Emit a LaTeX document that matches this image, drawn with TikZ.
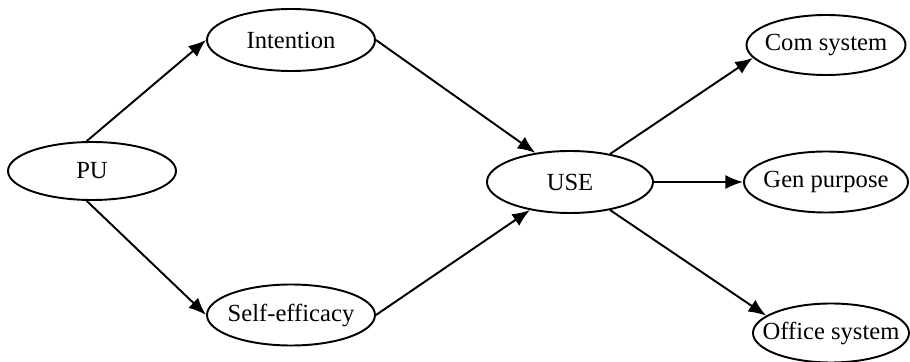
\documentclass[tikz,border=0pt]{standalone}
\usepackage{fontspec}
\setmainfont{Liberation Serif}
\usetikzlibrary{shapes.geometric,arrows.meta}

\tikzset{
	oval/.style={ellipse, draw, line width=1.1pt, inner ysep=0pt, inner xsep=-0.6cm, font=\fontsize{14}{16}\selectfont},
	link/.style={line width=1.1pt, -{Latex[length=10pt,width=8pt]}}
}

\begin{document}
\begin{tikzpicture}
	
	\useasboundingbox (0,0) rectangle (18.2,7.24);
	
	\node[oval, minimum width=3.36cm, minimum height=1.16cm] (pu) at (1.84,3.82) {PU};
	\node[oval, minimum width=3.36cm, minimum height=1.24cm] (intention) at (5.82,6.44) {Intention};
	\node[oval, minimum width=3.36cm, minimum height=1.22cm] (selfeff) at (5.82,0.94) {Self-efficacy};
	\node[oval, minimum width=3.32cm, minimum height=1.24cm] (use) at (11.4,3.6) {USE};
	\node[oval, minimum width=3.18cm, minimum height=1.2cm] (comsys) at (16.52,6.34) {Com system};
	\node[oval, minimum width=3.28cm, minimum height=1.22cm] (genpur) at (16.52,3.6) {Gen purpose};
	\node[oval, minimum width=3.12cm, minimum height=1.18cm] (offsys) at (16.62,0.58) {Office system};
	
	\draw[link] (pu.100) -- (intention.west);
	\draw[link] (pu.260) -- (selfeff.west);
	\draw[link] (intention.east) -- (use.140);
	\draw[link] (selfeff.east) -- (use.215);
	\draw[link] (use.35) -- (comsys.190);
	\draw[link] (use.east) -- (genpur.west);
	\draw[link] (use.325) -- (offsys.165);
	
\end{tikzpicture}
\end{document}
